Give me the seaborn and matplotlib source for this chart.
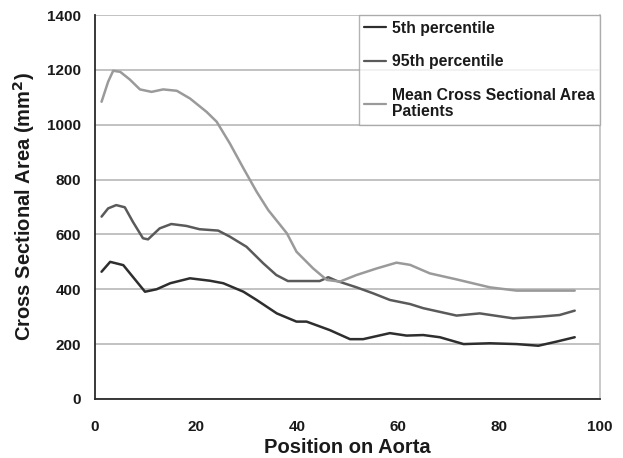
import numpy as np
import pandas as pd
import matplotlib
matplotlib.use("Agg")
import matplotlib.pyplot as plt
import seaborn as sns

# ---- data ----
p5_x = [1.3, 3.0, 5.6, 9.9, 12.2, 14.9, 18.8, 22.8, 25.4, 29.4, 32.0, 36.0, 39.9, 41.9,
        46.5, 50.5, 53.1, 58.4, 61.7, 65.0, 68.3, 73.0, 78.2, 83.5, 87.8, 91.4, 95.0]
p5_y = [464, 500, 488, 391, 400, 422, 440, 431, 422, 391, 361, 312, 282, 282,
        251, 218, 218, 240, 231, 233, 225, 200, 203, 200, 194, 209, 225]

p95_x = [1.3, 2.6, 4.2, 5.9, 7.5, 9.5, 10.5, 12.8, 15.1, 18.1, 20.7, 24.4, 26.7, 30.0,
         33.3, 35.9, 38.2, 41.2, 44.5, 46.2, 47.8, 51.8, 55.1, 58.4, 62.4, 65.0, 71.6,
         76.2, 82.8, 88.1, 92.0, 95.0]
p95_y = [665, 695, 707, 699, 646, 586, 582, 622, 638, 631, 619, 614, 592, 555,
         495, 452, 430, 430, 430, 444, 431, 407, 385, 361, 346, 331, 304,
         312, 294, 300, 306, 322]

mean_x = [1.3, 2.6, 3.6, 5.0, 6.9, 8.9, 11.2, 13.5, 16.2, 18.8, 22.1, 24.1, 26.7, 29.4,
          32.0, 34.3, 38.0, 39.9, 43.2, 45.9, 48.5, 51.8, 55.8, 59.7, 62.4, 66.3, 71.6,
          78.2, 83.5, 88.1, 95.0]
mean_y = [1084, 1157, 1197, 1193, 1165, 1129, 1120, 1129, 1124, 1096, 1047, 1011, 932, 841,
          756, 689, 604, 537, 476, 434, 428, 452, 476, 497, 489, 458, 436,
          407, 395, 395, 395]

series_names = ["5th percentile", "95th percentile", "Mean Cross Sectional Area\nPatients"]
series_colors = ["#2e2e2e", "#5a5a5a", "#9a9a9a"]

x_ticks = [0, 20, 40, 60, 80, 100]
y_ticks = [0, 200, 400, 600, 800, 1000, 1200, 1400]

df = pd.concat([
    pd.DataFrame({"x": p5_x, "y": p5_y, "s": series_names[0]}),
    pd.DataFrame({"x": p95_x, "y": p95_y, "s": series_names[1]}),
    pd.DataFrame({"x": mean_x, "y": mean_y, "s": series_names[2]}),
])

sns.set_theme(style="white")
plt.rcParams["font.family"] = ["Liberation Sans", "DejaVu Sans"]

fig = plt.figure(figsize=(6.23, 4.58), dpi=100)
ax = fig.add_axes([0.1525, 0.129, 0.8105, 0.838])

sns.lineplot(data=df, x="x", y="y", hue="s", hue_order=series_names,
             palette=series_colors, sort=False, linewidth=1.8, ax=ax, legend=True)

ax.set_xlim(0, 100)
ax.set_ylim(0, 1400)
ax.set_xticks(x_ticks)
ax.set_yticks(y_ticks)
ax.set_xticklabels([str(t) for t in x_ticks], fontsize=11, fontweight="bold", color="#1a1a1a")
ax.set_yticklabels([str(t) for t in y_ticks], fontsize=11, fontweight="bold", color="#1a1a1a")
ax.yaxis.grid(True, color="#b8b8b8", linewidth=1.2)
ax.xaxis.grid(False)
ax.set_axisbelow(True)

for side in ["left", "bottom"]:
    ax.spines[side].set_color("#2a2a2a")
    ax.spines[side].set_linewidth(1.3)
ax.spines["right"].set_color("#c0c0c0")
ax.spines["right"].set_linewidth(1.2)
ax.spines["top"].set_visible(False)
ax.tick_params(axis="x", direction="out", length=6, width=1.2, color="#2a2a2a", pad=9)
ax.tick_params(axis="y", direction="out", length=8, width=1.2, color="#2a2a2a", pad=2)

ax.set_xlabel("Position on Aorta", fontsize=14.5, fontweight="bold", color="#1a1a1a", labelpad=3)
ax.set_ylabel("Cross Sectional Area (mm$^\\mathbf{2}$)", fontsize=14.5, fontweight="bold",
              color="#1a1a1a", labelpad=7)

handles, labels = ax.get_legend_handles_labels()
leg = ax.legend(handles, labels, loc="upper right", bbox_to_anchor=(1.0, 1.0),
                borderaxespad=0, frameon=True, fancybox=False, handlelength=1.4,
                handletextpad=0.35, labelspacing=1.2, borderpad=0.35,
                prop={"family": "Liberation Sans", "weight": "bold", "size": 11.3})
leg.get_frame().set_edgecolor("#a0a0a0")
leg.get_frame().set_linewidth(1.0)
for t in leg.get_texts():
    t.set_color("#1a1a1a")
    t.set_linespacing(1.1)
for h in leg.get_lines():
    h.set_linewidth(1.6)

fig.savefig("out.png", dpi=100)
